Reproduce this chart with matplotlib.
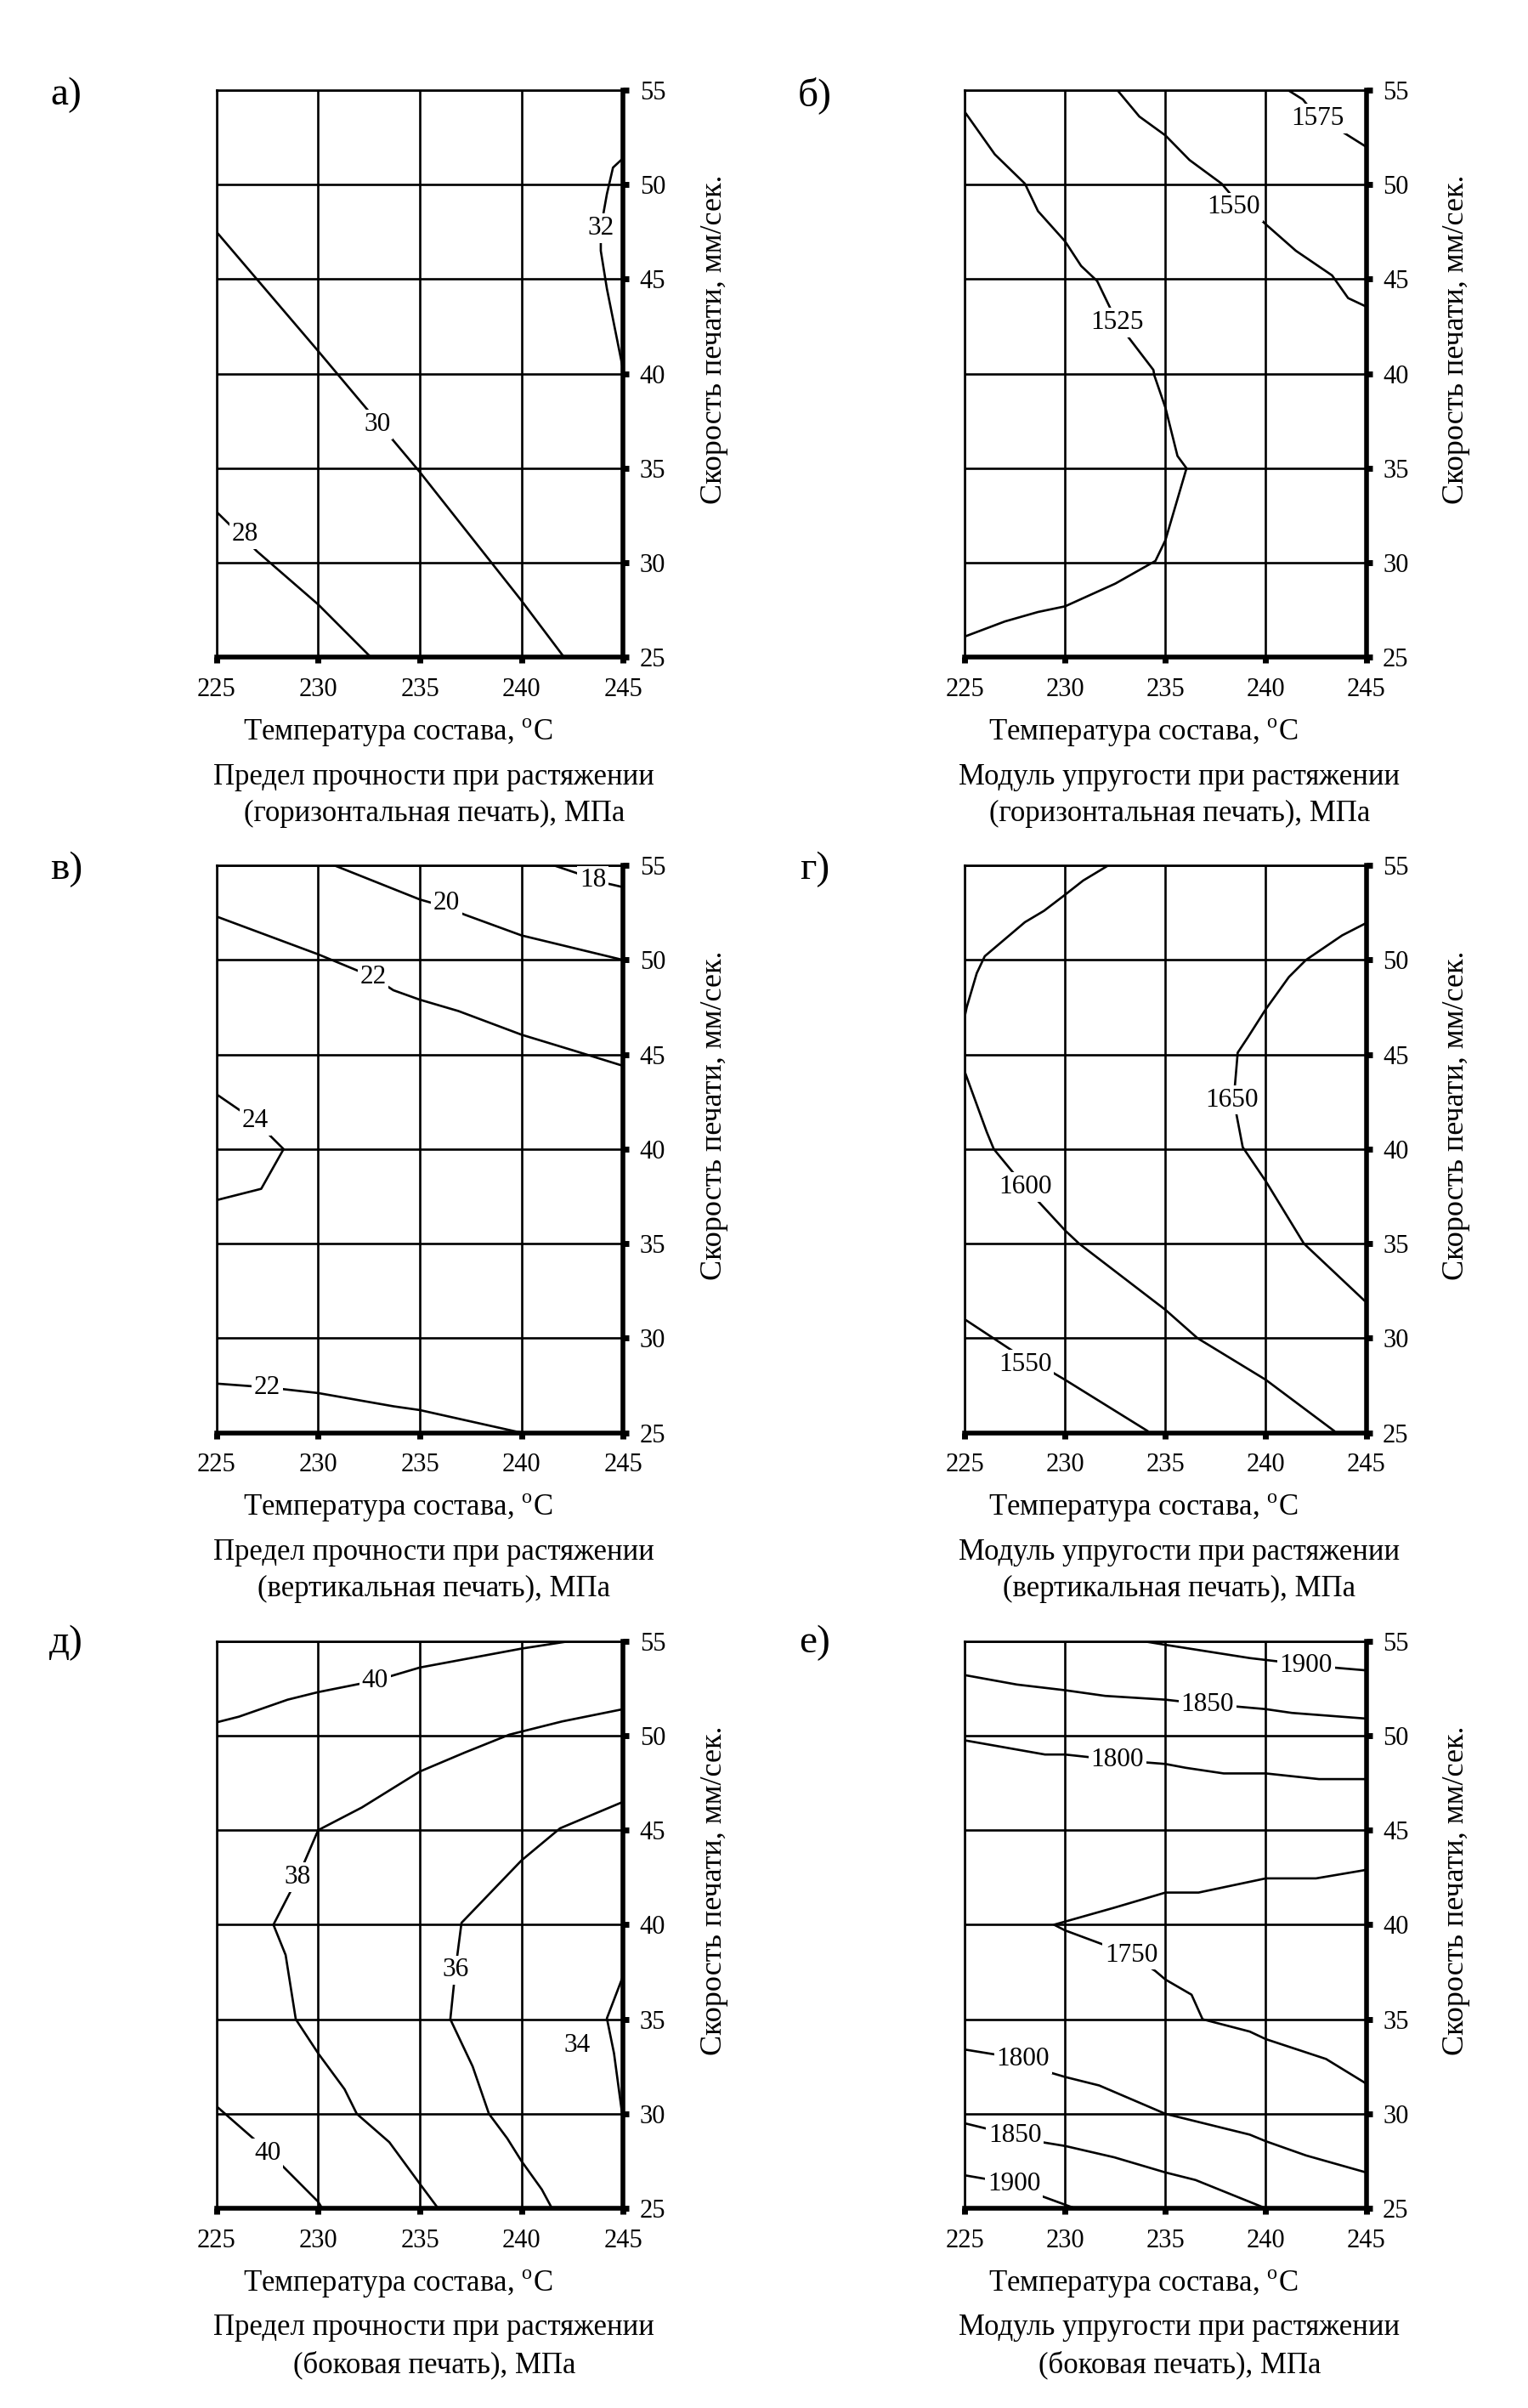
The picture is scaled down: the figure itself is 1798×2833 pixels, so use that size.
import matplotlib
matplotlib.use('Agg')
import matplotlib.pyplot as plt

plt.rcParams['font.family'] = ['Liberation Serif', 'DejaVu Serif']
plt.rcParams['mathtext.fontset'] = 'custom'
plt.rcParams['mathtext.rm'] = 'Liberation Serif'

# ---------------- data ----------------
X_TICKS = [225, 230, 235, 240, 245]
Y_TICKS = [25, 30, 35, 40, 45, 50, 55]
X_LABEL = "Температура состава, $^{\\mathrm{o}}$C"
Y_LABEL = "Скорость печати, мм/сек."
PANEL_LETTERS = ["а)", "б)", "в)", "г)", "д)", "е)"]
TITLES_1 = ["Предел прочности при растяжении", "Модуль упругости при растяжении",
            "Предел прочности при растяжении", "Модуль упругости при растяжении",
            "Предел прочности при растяжении", "Модуль упругости при растяжении"]
TITLES_2 = ["(горизонтальная печать), МПа", "(горизонтальная печать), МПа",
            "(вертикальная печать), МПа", "(вертикальная печать), МПа",
            "(боковая печать), МПа", "(боковая печать), МПа"]

# panel а
A_LEVELS = ["30", "28", "32"]
A_X = [[225, 230, 235, 240, 242.1],
       [225, 227, 230, 232.6],
       [245, 244.5, 244.2, 243.9, 243.9, 244.2, 245]]
A_Y = [[47.5, 41.2, 34.8, 28.0, 25.0],
       [32.7, 30.6, 27.8, 25.0],
       [51.4, 50.9, 49.5, 47.7, 46.5, 44.5, 40.2]]
A_LAB = [(232.9, 37.3), (226.4, 31.5), (243.9, 47.7)]

# panel б
B_LEVELS = ["1525", "1550", "1575"]
B_X = [[225, 226.5, 228.0, 228.65, 230, 230.8, 231.6, 232.6, 234.4, 234.45, 235.0, 235.6,
        236.05, 235.0, 234.5, 232.5, 230, 228.65, 227.0, 225],
       [232.6, 233.7, 235, 236.2, 237.8, 238.4, 239.6, 240, 241.5, 243.3, 244.1, 245],
       [241.1, 241.85, 242.6, 243.8, 245]]
B_Y = [[53.85, 51.6, 50.05, 48.6, 47.0, 45.7, 44.9, 42.7, 40.2, 39.9, 38.2, 35.65,
        35.0, 31.2, 30.1, 28.9, 27.7, 27.4, 26.9, 26.1],
       [55, 53.6, 52.6, 51.3, 50.05, 49.3, 48.3, 47.9, 46.5, 45.2, 44.0, 43.55],
       [55, 54.5, 53.5, 52.8, 52.0]]
B_LAB = [(232.6, 42.7), (238.4, 48.8), (242.6, 53.5)]

# panel в
V_LEVELS = ["18", "20", "22", "24", "22"]
V_X = [[241.6, 242.7, 243.5, 244.4, 245],
       [230.8, 235, 236.3, 237.2, 240, 245],
       [225, 230, 232.7, 233.7, 235, 236.9, 240, 242.6, 245],
       [225, 226.9, 228.3, 227.2, 225],
       [225, 227.5, 230, 233.7, 235, 240]]
V_Y = [[55, 54.6, 54.2, 54.0, 53.85],
       [55, 53.2, 52.8, 52.4, 51.3, 50.0],
       [52.3, 50.3, 49.1, 48.4, 47.9, 47.3, 46.05, 45.2, 44.4],
       [42.9, 41.5, 40.0, 37.9, 37.3],
       [27.6, 27.4, 27.1, 26.4, 26.2, 25.0]]
V_LAB = [(243.5, 54.2), (236.3, 53.0), (232.7, 49.1), (226.9, 41.5), (227.5, 27.4)]

# panel г
G_LEVELS = ["", "1600", "1650", "1550"]
G_X = [[232.15, 230.9, 230, 228.95, 228.0, 226.0, 225.6, 225.1, 225],
       [225, 226.1, 226.45, 228.0, 230, 230.7, 235, 236.6, 240, 243.4],
       [244.9, 243.8, 242.0, 241.15, 240, 239.1, 238.6, 238.4, 238.85, 240, 241.9, 243.1, 244.9],
       [225, 227.0, 228.0, 229.2, 230, 234.1]]
G_Y = [[55, 54.2, 53.45, 52.6, 52.0, 50.2, 49.3, 47.5, 47.0],
       [44.1, 40.9, 40.0, 38.0, 35.7, 35.0, 31.5, 30.0, 27.8, 25.1],
       [51.9, 51.3, 50.0, 49.1, 47.4, 45.9, 45.1, 42.6, 40.1, 38.3, 35.0, 33.8, 32.0],
       [31.0, 29.6, 28.9, 28.3, 27.8, 25.1]]
G_LAB = [None, (228.0, 38.0), (238.3, 42.6), (228.0, 28.6)]

# panel д
D_LEVELS = ["40", "38", "36", "34", "40"]
D_X = [[225, 226.1, 228.5, 230, 232.8, 235, 240, 242.4],
       [245, 242.0, 239.4, 237.2, 235, 232.15, 230, 229.0, 227.8, 228.4, 228.9, 230, 231.3,
        231.9, 233.5, 235, 235.9],
       [245, 241.9, 240, 237.05, 236.75, 236.5, 237.6, 238.4, 239.3, 240, 241.0, 241.5],
       [245, 244.2, 244.55, 244.95],
       [225, 227.5, 230, 230.2]]
D_Y = [[50.7, 51.0, 51.9, 52.3, 52.9, 53.6, 54.6, 55],
       [51.4, 50.75, 50.05, 49.1, 48.1, 46.2, 45.0, 42.5, 40.0, 38.4, 35.0, 33.2, 31.3,
        30.0, 28.5, 26.3, 25.0],
       [46.5, 45.1, 43.4, 40.1, 37.6, 35.0, 32.5, 30.0, 28.7, 27.5, 26.0, 25.0],
       [37.3, 35.05, 33.2, 30.0],
       [30.4, 28.05, 25.35, 25.0]]
D_LAB = [(232.8, 52.9), (229.0, 42.5), (236.75, 37.6), (242.75, 33.6), (227.5, 27.9)]

# panel е
E_LEVELS = ["1900", "1850", "1800", "1750", "1800", "1850", "1900"]
E_X = [[233.85, 235, 239.2, 240, 242.0, 243.35, 245],
       [225, 227.6, 230, 232.0, 235, 237.1, 238.4, 240, 241.3, 245],
       [225, 229.0, 230, 232.6, 235, 236.0, 237.9, 240, 242.65, 245],
       [245, 242.5, 240, 236.65, 235, 232.45, 229.45, 230, 233.3, 234.5, 235, 236.3, 236.85,
        239.2, 240, 243.0, 245],
       [225, 227.9, 229.2, 230, 231.7, 235, 239.2, 240, 242.0, 245],
       [225, 227.5, 228.85, 230, 232.45, 235, 236.5, 240],
       [225, 227.45, 228.7, 230.5]]
E_Y = [[55, 54.8, 54.1, 54.0, 53.75, 53.6, 53.45],
       [53.2, 52.7, 52.4, 52.1, 51.9, 51.65, 51.55, 51.4, 51.2, 50.9],
       [49.75, 49.0, 49.0, 48.7, 48.5, 48.3, 48.0, 48.0, 47.7, 47.7],
       [42.9, 42.45, 42.45, 41.7, 41.7, 40.9, 40.0, 39.7, 38.4, 37.55, 37.1, 36.3, 35.0,
        34.35, 33.95, 32.9, 31.6],
       [33.4, 32.9, 32.2, 31.95, 31.5, 30.0, 28.9, 28.55, 27.8, 26.9],
       [29.5, 28.85, 28.5, 28.3, 27.7, 26.9, 26.5, 25.0],
       [26.75, 26.3, 25.7, 25.0]]
E_LAB = [(242.0, 53.7), (237.1, 51.65), (232.6, 48.7), (233.3, 38.4), (227.9, 32.9),
         (227.5, 28.85), (227.45, 26.3)]

PANELS = [(A_LEVELS, A_X, A_Y, A_LAB), (B_LEVELS, B_X, B_Y, B_LAB),
          (V_LEVELS, V_X, V_Y, V_LAB), (G_LEVELS, G_X, G_Y, G_LAB),
          (D_LEVELS, D_X, D_Y, D_LAB), (E_LEVELS, E_X, E_Y, E_LAB)]

# ---------------- layout ----------------
W, H = 1799, 2833
fig = plt.figure(figsize=(W / 100, H / 100), dpi=100)
fig.patch.set_facecolor('white')

COL_LEFT = [0.1416, 0.6310]
COL_W = [0.2660, 0.2626]
ROW_BOTTOM = [0.7270, 0.4050, 0.0829]
ROW_H = 0.2356
LETTER_X = [0.0434, 0.533]
LETTER_Y = [0.9605, 0.6390, 0.3176]

FS_TICK = 22
FS_XLAB = 25
FS_YLAB = 26
FS_TITLE = 25
FS_CL = 22.5
FS_LETTER = 34
LW_THIN = 1.9
LW_THICK = 4.0

for i, (levels, xs, ys, labs) in enumerate(PANELS):
    r, c = divmod(i, 2)
    ax = fig.add_axes([COL_LEFT[c], ROW_BOTTOM[r], COL_W[c], ROW_H])
    ax.set_xlim(225, 245)
    ax.set_ylim(25, 55)
    ax.set_xticks(X_TICKS)
    ax.set_yticks(Y_TICKS)
    ax.set_xticklabels([str(v) for v in X_TICKS])
    ax.set_yticklabels([str(v) for v in Y_TICKS])
    ax.yaxis.tick_right()
    ax.grid(True, color='black', lw=LW_THIN, zorder=1)
    ax.set_axisbelow(True)
    for s in ['left', 'top']:
        ax.spines[s].set_linewidth(LW_THIN)
    for s in ['right', 'bottom']:
        ax.spines[s].set_linewidth(LW_THICK)
        ax.spines[s].set_capstyle('projecting')
    ax.tick_params(axis='x', direction='out', length=5, width=5, pad=12,
                   labelsize=FS_TICK, colors='black')
    ax.tick_params(axis='y', direction='out', length=5, width=5, pad=9,
                   labelsize=FS_TICK, colors='black', right=True, left=False)

    for lev, x, y, lab in zip(levels, xs, ys, labs):
        ax.plot(x, y, color='black', lw=LW_THIN, zorder=3, solid_joinstyle='round')
        if lab is not None and lev:
            ax.text(lab[0], lab[1], lev, ha='center', va='center', fontsize=FS_CL,
                    zorder=5, bbox=dict(facecolor='white', edgecolor='none', pad=2))

    ax.text(1.225, 0.56, Y_LABEL, rotation=90, ha='center', va='center',
            fontsize=FS_YLAB, transform=ax.transAxes)
    ax.text(0.445, -0.133, X_LABEL, ha='center', va='center', fontsize=FS_XLAB,
            transform=ax.transAxes)
    ax.text(0.535, -0.211, TITLES_1[i], ha='center', va='center', fontsize=FS_TITLE,
            transform=ax.transAxes)
    ax.text(0.535, -0.276, TITLES_2[i], ha='center', va='center', fontsize=FS_TITLE,
            transform=ax.transAxes)
    fig.text(LETTER_X[c], LETTER_Y[r], PANEL_LETTERS[i], ha='center', va='center',
             fontsize=FS_LETTER)

fig.savefig('out.png', dpi=100, facecolor='white')
